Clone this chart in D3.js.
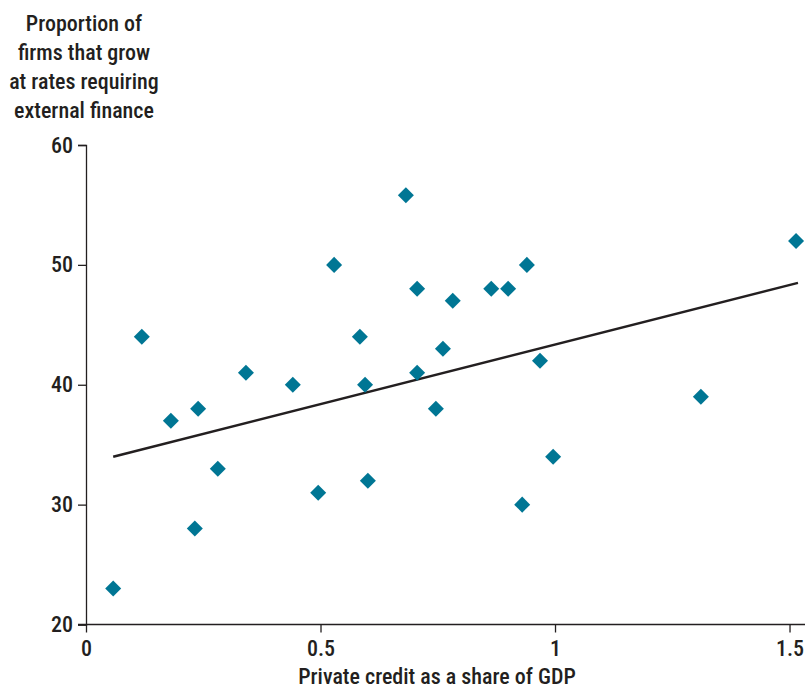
<!DOCTYPE html>
<html><head><meta charset="utf-8">
<script src="https://cdn.jsdelivr.net/npm/d3@7"></script>
<style>
html,body{margin:0;padding:0;background:#fff;}
text{font-family:"Liberation Sans Narrow","Roboto Condensed","Liberation Sans",sans-serif;fill:#231f20;font-weight:500;}
</style></head>
<body><svg id="c" width="806" height="693"></svg>
<script>
const creditShare = [0.058,0.119,0.181,0.232,0.239,0.281,0.341,0.441,0.495,0.529,0.584,0.595,0.601,0.682,0.706,0.706,0.746,0.761,0.782,0.864,0.900,0.930,0.940,0.968,0.996,1.311,1.514];
const firmsPct    = [23,44,37,28,38,33,41,40,31,50,44,40,32,55.8,41,48,38,43,47,48,48,30,50,42,34,39,52];
const trendX = [0.058, 1.518];
const trendY = [34.0, 48.5];
const xTicks = [0, 0.5, 1, 1.5];
const xTickLabels = ["0","0.5","1","1.5"];
const yTicks = [20, 30, 40, 50, 60];
const yTitle = ["Proportion of","firms that grow","at rates requiring","external finance"];
const xTitle = "Private credit as a share of GDP";

const svg = d3.select("#c");
const x = d3.scaleLinear().domain([0, 1.533]).range([86, 805]);
const y = d3.scaleLinear().domain([20, 60]).range([624.5, 145]);
const ink = "#231f20", teal = "#007694";
const ff = '"Liberation Sans Narrow","Roboto Condensed","Liberation Sans",sans-serif';

// x axis
const xa = svg.append("g").attr("transform", `translate(0,${y(20)})`)
  .call(d3.axisBottom(x).tickValues(xTicks).tickFormat((d,i)=>xTickLabels[i]).tickSizeOuter(0).tickSize(8).tickPadding(8));
xa.select(".domain").attr("d", `M78,0H${x(1.533)}`);
// y axis
const ya = svg.append("g").attr("transform", `translate(${x(0)},0)`)
  .call(d3.axisLeft(y).tickValues(yTicks).tickSizeOuter(0).tickSize(8).tickPadding(5));
[xa, ya].forEach(a=>{
  a.selectAll(".domain").attr("stroke", ink).attr("stroke-width", 1.3);
  a.selectAll(".tick line").attr("stroke", ink).attr("stroke-width", 1.3);
  a.selectAll(".tick text").attr("font-size", 22).attr("fill", ink)
    .style("font-family", ff).style("font-weight", "500");
});

// trend line
svg.append("line")
  .attr("x1", x(trendX[0])).attr("y1", y(trendY[0]))
  .attr("x2", x(trendX[1])).attr("y2", y(trendY[1]))
  .attr("stroke", ink).attr("stroke-width", 2.5);

// points
const sym = d3.symbol().type(d3.symbolSquare).size(128);
svg.append("g").selectAll("path").data(creditShare.map((v,i)=>[v, firmsPct[i]])).join("path")
  .attr("d", sym)
  .attr("transform", d=>`translate(${x(d[0])},${y(d[1])}) rotate(45)`)
  .attr("fill", teal);

// titles
svg.append("text").attr("text-anchor","middle").attr("font-size",22)
  .selectAll("tspan").data(yTitle).join("tspan")
  .attr("x", 84).attr("y", (d,i)=>30.5 + i*29.3).text(d=>d);
svg.append("text").attr("text-anchor","middle").attr("font-size",22)
  .attr("x", 437).attr("y", 684).text(xTitle);
</script></body></html>
